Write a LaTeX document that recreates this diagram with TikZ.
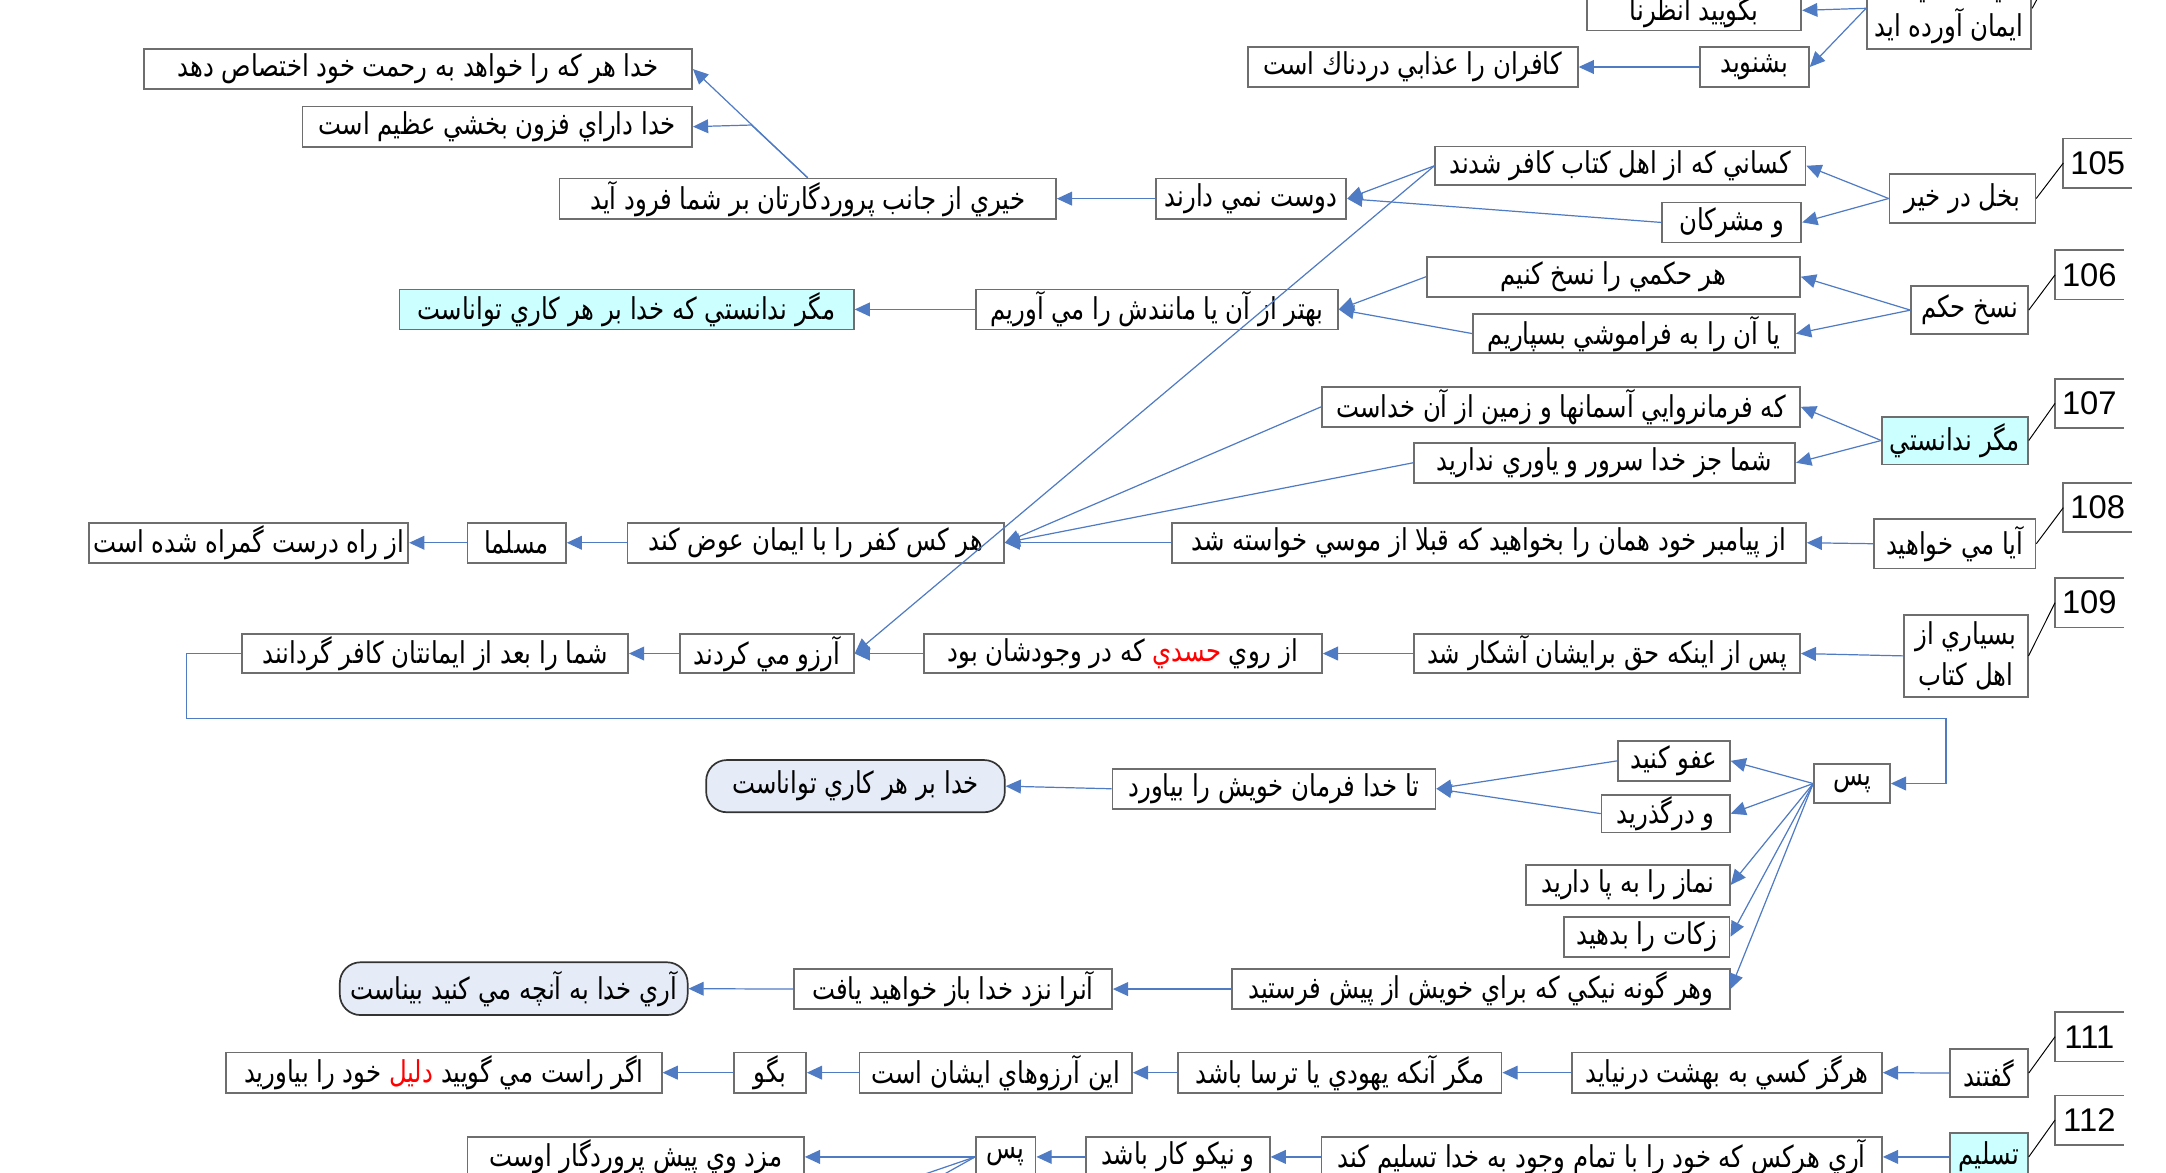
\documentclass[tikz,border=0pt]{standalone}
\usepackage{fontspec}
\usetikzlibrary{arrows.meta}
\TeXXeTstate=1
\newfontfamily\arabicfont[Script=Arabic, FakeStretch=0.81]{DejaVu Sans}
\newfontfamily\numfont{Liberation Sans}
\newcommand{\fatext}[1]{\beginR #1\endR}

\definecolor{linkblue}{RGB}{79,123,196}
\definecolor{boxgray}{RGB}{110,110,110}
\definecolor{verscyan}{RGB}{204,255,255}
\definecolor{pillblue}{RGB}{230,236,247}

\tikzset{
  box/.style={draw=boxgray, line width=0.7pt, fill=white, inner sep=0pt,
    minimum height=29*0.02cm, font=\arabicfont\fontsize{12.4}{17}\selectfont},
  bw/.style={minimum width=#1*0.02cm},
  bh/.style={minimum height=#1*0.02cm},
  cyanbox/.style={box, fill=verscyan},
  pill/.style={box, draw=black!80, fill=pillblue, rounded corners=0.3cm},
  numbox/.style={inner sep=0pt, minimum width=49*0.02cm, minimum height=35*0.02cm,
    font=\numfont\fontsize{13.5}{15}\selectfont},
  numedge/.style={draw=boxgray, line width=0.7pt},
  numline/.style={draw=black, line width=0.4pt},
  link/.style={draw=linkblue, line width=0.5pt, -{Triangle[length=2.2mm,width=2mm]}},
  wire/.style={draw=linkblue, line width=0.5pt}
}

\begin{document}
\begin{tikzpicture}[x=0.02cm, y=-0.02cm]

        % Page frame (reference proportions)
        \useasboundingbox (0,0) rectangle (1568,849);

        % Verse 104 (cut at the top)
        \node[box, bw=119, bh=59, align=center] (iman) at (1411,6) {\fatext{اي كساني كه}\\\fatext{ايمان آورده ايد}};
        \coordinate (n104) at (1493,-35);
        \node[box, bw=155] (begooyid) at (1226.5,7.5) {\fatext{بگوييد انظرنا}};
        \node[box, bw=79] (beshnavid) at (1270,48.5) {\fatext{بشنويد}};
        \node[box, bw=239] (kafaran) at (1022.7,48.5) {\fatext{كافران را عذابي دردناك است}};

        % Verse 105
        \node[box, bw=397] (hakke) at (302.5,50) {\fatext{خدا هر كه را خواهد به رحمت خود اختصاص دهد}};
        \node[box, bw=282] (dara) at (360,91.7) {\fatext{خدا داراي فزون بخشي عظيم است}};
        \node[box, bw=359.5] (khayri) at (584.7,143.8) {\fatext{خيري از جانب پروردگارتان بر شما فرود آيد}};
        \node[box, bw=138] (dost) at (905.6,143.8) {\fatext{دوست نمي دارند}};
        \node[box, bw=268, bh=28] (kasani) at (1173,120) {\fatext{كساني كه از اهل كتاب كافر شدند}};
        \node[box, bw=101] (moshrekan) at (1253.5,161) {\fatext{و مشركان}};
        \node[box, bw=105.6, bh=35] (bokhl) at (1420.6,143.7) {\fatext{بخل در خير}};
        \node[numbox] (n105) at (1518.5,118) {105};

        % Verse 106
        \node[box, bw=270] (hokmi) at (1168,200.3) {\fatext{هر حكمي را نسخ كنيم}};
        \node[box, bw=233, bh=28] (faramooshi) at (1183,241.5) {\fatext{يا آن را به فراموشي بسپاريم}};
        \node[box, bw=84.4, bh=35] (naskh) at (1425.8,224.5) {\fatext{نسخ حكم}};
        \node[numbox] (n106) at (1512.5,199) {106};
        \node[box, bw=262] (behtar) at (837.5,224) {\fatext{بهتر از آن يا مانندش را مي آوريم}};
        \node[cyanbox, bw=329] (magar1) at (453.6,224) {\fatext{مگر ندانستي كه خدا بر هر كاري تواناست}};

        % Verse 107
        \node[box, bw=346] (farmanravai) at (1130,294.5) {\fatext{كه فرمانروايي آسمانها و زمين از آن خداست}};
        \node[box, bw=276] (shomajoz) at (1161.6,335) {\fatext{شما جز خدا سرور و ياوري نداريد}};
        \node[cyanbox, bw=105.6, bh=34.5] (magar2) at (1415.2,318.9) {\fatext{مگر ندانستي}};
        \node[numbox] (n107) at (1512.5,292) {107};

        % Verse 108
        \node[box, bw=117, bh=36] (aya) at (1415,393.6) {\fatext{آيا مي خواهيد}};
        \node[numbox] (n108) at (1518.5,367.5) {108};
        \node[box, bw=459] (payambar) at (1077.8,392.9) {\fatext{از پيامبر خود همان را بخواهيد كه قبلا از موسي خواسته شد}};
        \node[box, bw=272.5] (harkas) at (590.5,392.9) {\fatext{هر كس كفر را با ايمان عوض كند}};
        \node[box, bw=71.3] (mosallama) at (374,392.9) {\fatext{مسلما}};
        \node[box, bw=231] (gomrah) at (180.1,392.9) {\fatext{از راه درست گمراه شده است}};

        % Verse 109
        \node[box, bw=89.7, bh=59.6, align=center] (besyari) at (1423,474.8) {\fatext{بسياري از}\\\fatext{اهل كتاب}};
        \node[numbox] (n109) at (1512.5,436.3) {109};
        \node[box, bw=279.4, bh=28] (haq) at (1163.3,473.1) {\fatext{پس از اينكه حق برايشان آشكار شد}};
        \node[box, bw=288.2, bh=28] (hasadi) at (812.9,473.1) {\fatext{كه در وجودشان بود}\ \textcolor{red}{\fatext{حسدي}}\ \fatext{از روي}};
        \node[box, bw=126, bh=28] (arezu) at (555.1,473.1) {\fatext{آرزو مي كردند}};
        \node[box, bw=279.4, bh=28] (kaferkonand) at (315,473.1) {\fatext{شما را بعد از ايمانتان كافر گردانند}};

        % Verse 109 (second part)
        \node[box, bw=55, bh=28] (pas1) at (1340.7,567.2) {\fatext{پس}};
        \node[box, bw=81] (afv) at (1211.7,550.8) {\fatext{عفو كنيد}};
        \node[box, bw=92.8, bh=27.5] (dargozarid) at (1205.8,589) {\fatext{و درگذريد}};
        \node[box, bw=233.8] (takhoda) at (922.3,571) {\fatext{تا خدا فرمان خويش را بياورد}};
        \node[pill, bw=216.2, bh=37.8] (qadir) at (619.3,569.1) {\fatext{خدا بر هر كاري تواناست}};

        % Verse 110
        \node[box, bw=147.5] (namaz) at (1178.5,640.6) {\fatext{نماز را به پا داريد}};
        \node[box, bw=120] (zakat) at (1192.1,678.1) {\fatext{زكات را بدهيد}};
        \node[box, bw=360.3] (harguneh) at (1072,716) {\fatext{وهر گونه نيكي كه براي خويش از پيش فرستيد}};
        \node[box, bw=230.2] (anra) at (689.9,716) {\fatext{آنرا نزد خدا باز خواهيد يافت}};
        \node[pill, bw=251.8, bh=38.2] (basir) at (371.9,715.7) {\fatext{آري خدا به آنچه مي كنيد بيناست}};

        % Verse 111
        \node[box, bw=56.6, bh=34.7] (goftand) at (1439.7,776.8) {\fatext{گفتند}};
        \node[numbox] (n111) at (1512.5,750.5) {111};
        \node[box, bw=224.4] (hargez) at (1250.2,776.5) {\fatext{هرگز كسي به بهشت درنيايد}};
        \node[box, bw=234.2] (magarake) at (969.9,776.5) {\fatext{مگر آنكه يهودي يا ترسا باشد}};
        \node[box, bw=197.2] (arezuha) at (720.9,776.5) {\fatext{اين آرزوهاي ايشان است}};
        \node[box, bw=52] (begu) at (557.5,776.5) {\fatext{بگو}};
        \node[box, bw=315.5] (dalil) at (321.3,776.5) {\fatext{خود را بياوريد}\ \textcolor{red}{\fatext{دليل}}\ \fatext{اگر راست مي گوييد}};

        % Verse 112 (cut at the bottom)
        \node[cyanbox, bw=56.6, bh=35] (taslim) at (1439.7,837.5) {\fatext{تسليم}};
        \node[numbox] (n112) at (1512.5,810.8) {112};
        \node[box, bw=405.8] (arihar) at (1159.5,837.5) {\fatext{آري هركس كه خود را با تمام وجود به خدا تسليم كند}};
        \node[box, bw=133] (nikukar) at (852.7,837.5) {\fatext{و نيكو كار باشد}};
        \node[box, bw=43.2] (pas2) at (728.1,837.5) {\fatext{پس}};
        \node[box, bw=243.6] (mozd) at (460.2,837.5) {\fatext{مزد وي پيش پروردگار اوست}};

        % Number tabs (open on the right)
        \draw[numedge] (n105.north east) -- (n105.north west) -- (n105.south west) -- (n105.south east);
        \draw[numedge] (n106.north east) -- (n106.north west) -- (n106.south west) -- (n106.south east);
        \draw[numedge] (n107.north east) -- (n107.north west) -- (n107.south west) -- (n107.south east);
        \draw[numedge] (n108.north east) -- (n108.north west) -- (n108.south west) -- (n108.south east);
        \draw[numedge] (n109.north east) -- (n109.north west) -- (n109.south west) -- (n109.south east);
        \draw[numedge] (n111.north east) -- (n111.north west) -- (n111.south west) -- (n111.south east);
        \draw[numedge] (n112.north east) -- (n112.north west) -- (n112.south west) -- (n112.south east);

        % Verse to number
        \draw[numline] (iman.east) -- (n104);
        \draw[numline] (bokhl.east) -- (n105.west);
        \draw[numline] (naskh.east) -- (n106.west);
        \draw[numline] (magar2.east) -- (n107.west);
        \draw[numline] (aya.east) -- (n108.west);
        \draw[numline] (besyari.east) -- (n109.west);
        \draw[numline] (goftand.east) -- (n111.west);
        \draw[numline] (taslim.east) -- (n112.west);

        % Links 104
        \draw[link] (iman.west) -- (begooyid.east);
        \draw[link] (iman.west) -- (beshnavid.east);
        \draw[link] (beshnavid.west) -- (kafaran.east);

        % Links 105
        \coordinate (kbend) at (544,90.5);
        \draw[link] (khayri.north) -- (hakke.east);
        \draw[link] (khayri.north) -- (kbend) -- (dara.east);
        \draw[link] (dost.west) -- (khayri.east);
        \draw[link] (kasani.west) -- (dost.east);
        \draw[link] (moshrekan.west) -- (dost.east);
        \draw[link] (bokhl.west) -- (kasani.east);
        \draw[link] (bokhl.west) -- (moshrekan.east);
        \draw[link] (kasani.west) -- (arezu.east);

        % Links 106
        \draw[link] (naskh.west) -- (hokmi.east);
        \draw[link] (naskh.west) -- (faramooshi.east);
        \draw[link] (hokmi.west) -- (behtar.east);
        \draw[link] (faramooshi.west) -- (behtar.east);
        \draw[link] (behtar.west) -- (magar1.east);

        % Links 107 and 108
        \draw[link] (magar2.west) -- (farmanravai.east);
        \draw[link] (magar2.west) -- (shomajoz.east);
        \draw[link] (farmanravai.west) -- (harkas.east);
        \draw[link] (shomajoz.west) -- (harkas.east);
        \draw[link] (aya.west) -- (payambar.east);
        \draw[link] (payambar.west) -- (harkas.east);
        \draw[link] (harkas.west) -- (mosallama.east);
        \draw[link] (mosallama.west) -- (gomrah.east);

        % Links 109
        \draw[link] (besyari.west) -- (haq.east);
        \draw[link] (haq.west) -- (hasadi.east);
        \draw[link] (hasadi.west) -- (arezu.east);
        \draw[link] (arezu.west) -- (kaferkonand.east);
        \draw[link] (kaferkonand.west) -- (134.8,473.1) -- (134.8,520) -- (1408.7,520) |- (pas1.east);
        \draw[link] (pas1.west) -- (afv.east);
        \draw[link] (pas1.west) -- (dargozarid.east);
        \draw[link] (afv.west) -- (takhoda.east);
        \draw[link] (dargozarid.west) -- (takhoda.east);
        \draw[link] (takhoda.west) -- (qadir.east);

        % Links 110
        \draw[link] (pas1.west) -- (namaz.east);
        \draw[link] (pas1.west) -- (zakat.east);
        \draw[link] (pas1.west) -- (harguneh.east);
        \draw[link] (harguneh.west) -- (anra.east);
        \draw[link] (anra.west) -- (basir.east);

        % Links 111
        \draw[link] (goftand.west) -- (hargez.east);
        \draw[link] (hargez.west) -- (magarake.east);
        \draw[link] (magarake.west) -- (arezuha.east);
        \draw[link] (arezuha.west) -- (begu.east);
        \draw[link] (begu.west) -- (dalil.east);

        % Links 112
        \coordinate (offa) at (640,860);
        \coordinate (offb) at (662,862);
        \draw[link] (taslim.west) -- (arihar.east);
        \draw[link] (arihar.west) -- (nikukar.east);
        \draw[link] (nikukar.west) -- (pas2.east);
        \draw[link] (pas2.west) -- (mozd.east);
        \draw[wire] (pas2.west) -- (offa);
        \draw[wire] (pas2.west) -- (offb);

\end{tikzpicture}
\end{document}
